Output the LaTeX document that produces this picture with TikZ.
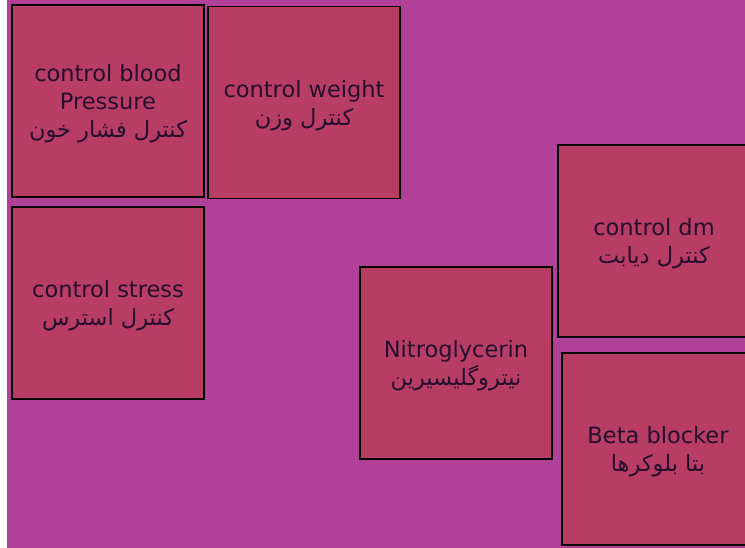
\documentclass[tikz,border=0pt]{standalone}
\usepackage{fontspec}
\setmainfont{DejaVu Sans}
\newfontfamily\arabicfont[Script=Arabic]{DejaVu Sans}
\TeXXeTstate=1
\definecolor{bgpurple}{RGB}{176,64,152}
\definecolor{boxred}{RGB}{184,61,101}
\definecolor{inkdark}{RGB}{38,14,44}
\newcommand{\fa}[1]{{\arabicfont\beginR #1\endR}}

\begin{document}
\begin{tikzpicture}[x=1pt,y=-1pt]

      \useasboundingbox (0,0) rectangle (745,548);
      \fill[bgpurple] (7,0) rectangle (745,548);

      \begin{scope}[every node/.style={rectangle,draw=black,line width=1.4pt,fill=boxred,
          minimum width=192pt,minimum height=192pt,inner sep=0pt,align=center,
          text=inkdark,font=\fontsize{22.5}{28}\selectfont,text depth=-2.5pt}]
        \node (1)  at (108,101) {control blood\\Pressure\\\fa{کنترل فشار خون}};
        \node (2)  at (304,102.5) {control weight\\\fa{کنترل وزن}};
        \node (3)  at (108,303) {control stress\\\fa{کنترل استرس}};
        \node (4)  at (456,363) {Nitroglycerin\\\fa{نیتروگلیسیرین}};
        \node (5)  at (654,241) {control dm\\\fa{کنترل دیابت}};
        \node (6)  at (658,449) {Beta blocker\\\fa{بتا بلوکرها}};
      \end{scope}

    \end{tikzpicture}
\end{document}
